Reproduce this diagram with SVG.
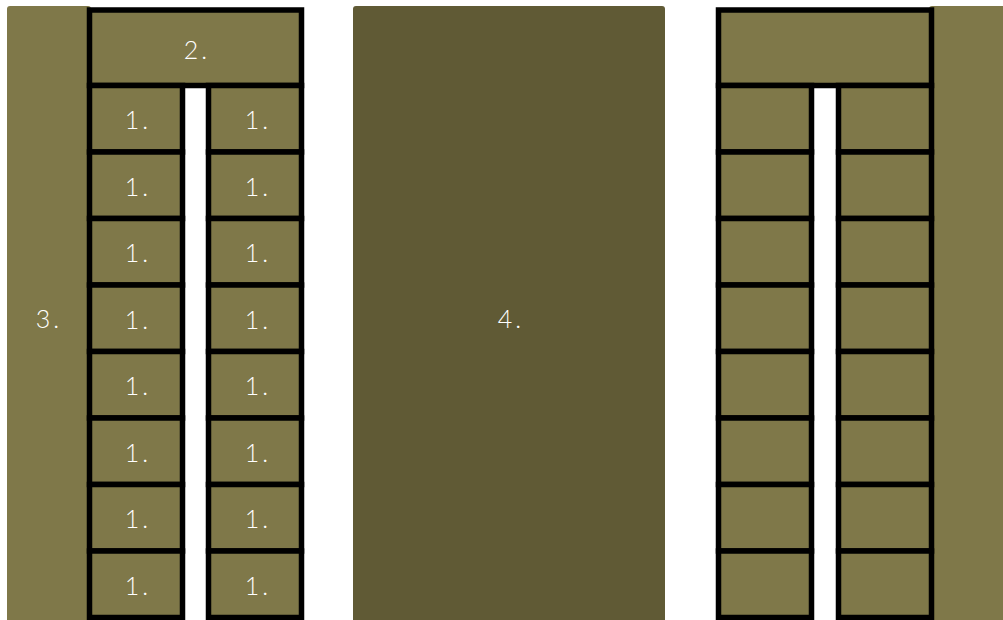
<svg xmlns="http://www.w3.org/2000/svg" width="1003" height="620" viewBox="0 0 1003 620">
<style>
.fill{fill:#7f7849}
.dark{fill:#605a35}
.box{fill:#7f7849;stroke:#000;stroke-width:5.5}
.lbl{fill:#fff;font-family:"Lato","Roboto","DejaVu Sans",sans-serif;font-weight:300;font-size:25px;text-anchor:middle;dominant-baseline:central;letter-spacing:3px}
</style>
<rect width="1003" height="620" fill="#fff"/>
<g id="node3"><rect class="fill" x="7" y="6" width="84" height="620" rx="3"/><text class="lbl" x="49" y="318">3.</text></g>
<g id="node2"><rect class="box" x="89.5" y="10" width="212" height="75.5"/><text class="lbl" x="197" y="49">2.</text></g>
<g id="leftRows">
<rect class="box" x="89.5" y="85.5" width="93" height="66.5"/><text class="lbl" x="138" y="119">1.</text>
<rect class="box" x="89.5" y="152" width="93" height="66.5"/><text class="lbl" x="138" y="185.5">1.</text>
<rect class="box" x="89.5" y="218.5" width="93" height="66.5"/><text class="lbl" x="138" y="252">1.</text>
<rect class="box" x="89.5" y="285" width="93" height="66.5"/><text class="lbl" x="138" y="318.5">1.</text>
<rect class="box" x="89.5" y="351.5" width="93" height="66.5"/><text class="lbl" x="138" y="385">1.</text>
<rect class="box" x="89.5" y="418" width="93" height="66.5"/><text class="lbl" x="138" y="451.5">1.</text>
<rect class="box" x="89.5" y="484.5" width="93" height="66.5"/><text class="lbl" x="138" y="518">1.</text>
<rect class="box" x="89.5" y="551" width="93" height="66.5"/><text class="lbl" x="138" y="584.5">1.</text>
<rect class="box" x="208.5" y="85.5" width="93" height="66.5"/><text class="lbl" x="258" y="119">1.</text>
<rect class="box" x="208.5" y="152" width="93" height="66.5"/><text class="lbl" x="258" y="185.5">1.</text>
<rect class="box" x="208.5" y="218.5" width="93" height="66.5"/><text class="lbl" x="258" y="252">1.</text>
<rect class="box" x="208.5" y="285" width="93" height="66.5"/><text class="lbl" x="258" y="318.5">1.</text>
<rect class="box" x="208.5" y="351.5" width="93" height="66.5"/><text class="lbl" x="258" y="385">1.</text>
<rect class="box" x="208.5" y="418" width="93" height="66.5"/><text class="lbl" x="258" y="451.5">1.</text>
<rect class="box" x="208.5" y="484.5" width="93" height="66.5"/><text class="lbl" x="258" y="518">1.</text>
<rect class="box" x="208.5" y="551" width="93" height="66.5"/><text class="lbl" x="258" y="584.5">1.</text>
</g>
<g id="node4"><rect class="dark" x="353" y="6" width="312" height="620" rx="3"/><text class="lbl" x="511" y="318">4.</text></g>
<g id="rightStrip"><rect class="fill" x="929" y="6" width="80" height="620" rx="3"/></g>
<g id="rightTop"><rect class="box" x="718.5" y="10" width="213" height="75.5"/></g>
<g id="rightRows">
<rect class="box" x="718.5" y="85.5" width="93" height="66.5"/>
<rect class="box" x="718.5" y="152" width="93" height="66.5"/>
<rect class="box" x="718.5" y="218.5" width="93" height="66.5"/>
<rect class="box" x="718.5" y="285" width="93" height="66.5"/>
<rect class="box" x="718.5" y="351.5" width="93" height="66.5"/>
<rect class="box" x="718.5" y="418" width="93" height="66.5"/>
<rect class="box" x="718.5" y="484.5" width="93" height="66.5"/>
<rect class="box" x="718.5" y="551" width="93" height="66.5"/>
<rect class="box" x="838.5" y="85.5" width="93" height="66.5"/>
<rect class="box" x="838.5" y="152" width="93" height="66.5"/>
<rect class="box" x="838.5" y="218.5" width="93" height="66.5"/>
<rect class="box" x="838.5" y="285" width="93" height="66.5"/>
<rect class="box" x="838.5" y="351.5" width="93" height="66.5"/>
<rect class="box" x="838.5" y="418" width="93" height="66.5"/>
<rect class="box" x="838.5" y="484.5" width="93" height="66.5"/>
<rect class="box" x="838.5" y="551" width="93" height="66.5"/>
</g>
<g id="connectors"/>
</svg>
